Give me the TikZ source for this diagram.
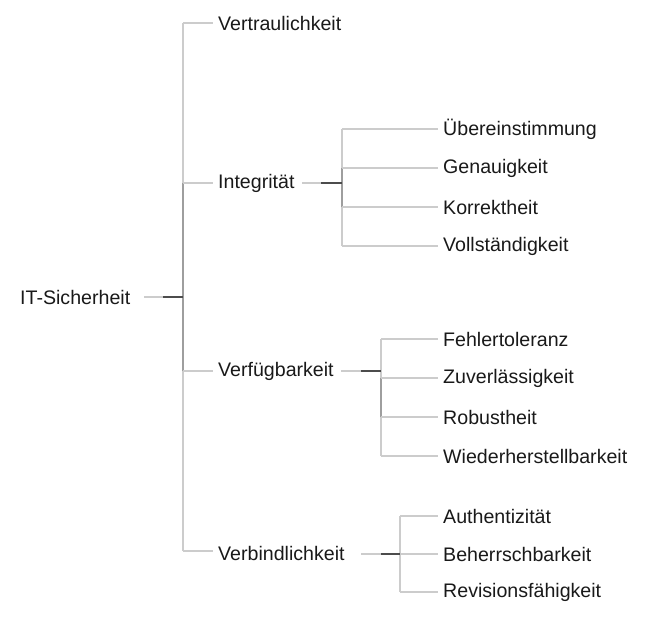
\documentclass[tikz,border=0pt]{standalone}
\usepackage{fontspec}
\setmainfont{Liberation Sans}
\begin{document}
\begin{tikzpicture}[x=1pt,y=-1pt,
  lbl/.style={anchor=west,inner sep=0pt,font=\fontsize{19.6}{21}\selectfont,text=black!90},
  light/.style={draw=black!20,line width=1.1pt},
  mid/.style={draw=black!38,line width=1.3pt},
  dark/.style={draw=black!70,line width=1.4pt}]
\useasboundingbox (0,0) rectangle (652,618);
% nodes
\node[lbl] (root) at (20,297) {IT-Sicherheit};
\node[lbl] (vt) at (218,23) {Vertraulichkeit};
\node[lbl] (ig) at (218,183) {Integrität};
\node[lbl] (vf) at (218,371) {Verfügbarkeit};
\node[lbl] (vb) at (218,553) {Verbindlichkeit};
\node[lbl] (ue) at (443,129) {Übereinstimmung};
\node[lbl] (ge) at (443,168) {Genauigkeit};
\node[lbl] (ko) at (443,207) {Korrektheit};
\node[lbl] (vo) at (443,246) {Vollständigkeit};
\node[lbl] (fe) at (443,339) {Fehlertoleranz};
\node[lbl] (zu) at (443,378) {Zuverlässigkeit};
\node[lbl] (ro) at (443,417) {Robustheit};
\node[lbl] (wi) at (443,456) {Wiederherstellbarkeit};
\node[lbl] (au) at (443,516) {Authentizität};
\node[lbl] (be) at (443,554) {Beherrschbarkeit};
\node[lbl] (re) at (443,592) {Revisionsfähigkeit};
% coordinates
\coordinate (r0) at (144,297);
\coordinate (r1) at (163,297);
\coordinate (r2) at (183,297);
\coordinate (tA) at (183,23);
\coordinate (tB) at (183,183);
\coordinate (tC) at (183,371);
\coordinate (tD) at (183,551);
\coordinate (i0) at (302,183);
\coordinate (i1) at (321,183);
\coordinate (i2) at (342,183);
\coordinate (iA) at (342,129);
\coordinate (iB) at (342,168);
\coordinate (iC) at (342,207);
\coordinate (iD) at (342,246);
\coordinate (f0) at (341,371);
\coordinate (f1) at (361,371);
\coordinate (f2) at (381,371);
\coordinate (fA) at (381,339);
\coordinate (fB) at (381,378);
\coordinate (fC) at (381,417);
\coordinate (fD) at (381,456);
\coordinate (b0) at (361,554);
\coordinate (b1) at (381,554);
\coordinate (b2) at (400,554);
\coordinate (bA) at (400,516);
\coordinate (bC) at (400,592);
% root level
\draw[light] (r0) -- (r1);
\draw[light] (tA) -- (tB);
\draw[light] (tC) -- (tD);
\draw[mid] (tB) -- (tC);
\draw[dark] (r1) -- (r2);
\draw[light] (tA) -- (vt.west -| 213,0);
\draw[light] (tB) -- (213,183);
\draw[light] (tC) -- (213,371);
\draw[light] (tD) -- (213,551);
% Integritaet
\draw[light] (i0) -- (i1);
\draw[light] (iA) -- (iB);
\draw[light] (iC) -- (iD);
\draw[mid] (iB) -- (iC);
\draw[dark] (i1) -- (i2);
\draw[light] (iA) -- (ue.west -| 438,0);
\draw[light] (iB) -- (ge.west -| 438,0);
\draw[light] (iC) -- (ko.west -| 438,0);
\draw[light] (iD) -- (vo.west -| 438,0);
% Verfuegbarkeit
\draw[light] (f0) -- (f1);
\draw[light] (fA) -- (fB);
\draw[light] (fC) -- (fD);
\draw[mid] (fB) -- (fC);
\draw[dark] (f1) -- (f2);
\draw[light] (fA) -- (fe.west -| 438,0);
\draw[light] (fB) -- (zu.west -| 438,0);
\draw[light] (fC) -- (ro.west -| 438,0);
\draw[light] (fD) -- (wi.west -| 438,0);
% Verbindlichkeit
\draw[light] (b0) -- (b1);
\draw[light] (bA) -- (bC);
\draw[dark] (b1) -- (b2);
\draw[light] (bA) -- (au.west -| 438,0);
\draw[light] (b2) -- (be.west -| 438,0);
\draw[light] (bC) -- (re.west -| 438,0);
\end{tikzpicture}
\end{document}
